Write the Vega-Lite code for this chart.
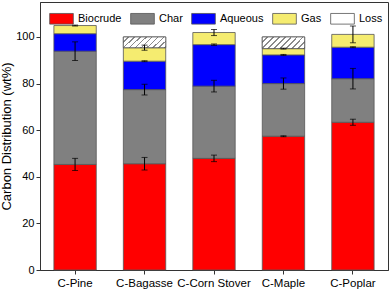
{
  "$schema": "https://vega.github.io/schema/vega-lite/v6.json",
  "width": 348,
  "height": 268,
  "autosize": "none",
  "padding": {"left": 40, "top": 2, "right": 2, "bottom": 21},
  "background": "white",
  "config": {
    "view": {"stroke": "#333", "strokeWidth": 1},
    "font": "Liberation Sans",
    "axis": {"grid": false, "domainColor": "#333", "tickColor": "#333", "labelColor": "black", "titleColor": "black", "labelFont": "Liberation Sans", "titleFont": "Liberation Sans"}
  },
  "data": {"values": [
    {"sample": "C-Pine", "comp": "Biocrude", "k": 1, "v": 45.3, "err": 2.6},
    {"sample": "C-Pine", "comp": "Char", "k": 2, "v": 48.6, "err": 4.0},
    {"sample": "C-Pine", "comp": "Aqueous", "k": 3, "v": 7.5, "err": 0},
    {"sample": "C-Pine", "comp": "Gas", "k": 4, "v": 3.5, "err": 0.2},
    {"sample": "C-Bagasse", "comp": "Biocrude", "k": 1, "v": 45.6, "err": 2.7},
    {"sample": "C-Bagasse", "comp": "Char", "k": 2, "v": 31.8, "err": 2.3},
    {"sample": "C-Bagasse", "comp": "Aqueous", "k": 3, "v": 12.2, "err": 0.2},
    {"sample": "C-Bagasse", "comp": "Gas", "k": 4, "v": 5.8, "err": 1.1},
    {"sample": "C-Bagasse", "comp": "Loss", "k": 5, "v": 4.6, "err": 0},
    {"sample": "C-Corn Stover", "comp": "Biocrude", "k": 1, "v": 47.9, "err": 1.4},
    {"sample": "C-Corn Stover", "comp": "Char", "k": 2, "v": 31.0, "err": 2.5},
    {"sample": "C-Corn Stover", "comp": "Aqueous", "k": 3, "v": 17.8, "err": 0.3},
    {"sample": "C-Corn Stover", "comp": "Gas", "k": 4, "v": 5.2, "err": 1.3},
    {"sample": "C-Maple", "comp": "Biocrude", "k": 1, "v": 57.4, "err": 0.2},
    {"sample": "C-Maple", "comp": "Char", "k": 2, "v": 22.6, "err": 2.4},
    {"sample": "C-Maple", "comp": "Aqueous", "k": 3, "v": 12.3, "err": 0.2},
    {"sample": "C-Maple", "comp": "Gas", "k": 4, "v": 2.7, "err": 0.2},
    {"sample": "C-Maple", "comp": "Loss", "k": 5, "v": 5.0, "err": 0},
    {"sample": "C-Poplar", "comp": "Biocrude", "k": 1, "v": 63.4, "err": 1.3},
    {"sample": "C-Poplar", "comp": "Char", "k": 2, "v": 18.7, "err": 4.4},
    {"sample": "C-Poplar", "comp": "Aqueous", "k": 3, "v": 13.5, "err": 0.2},
    {"sample": "C-Poplar", "comp": "Gas", "k": 4, "v": 5.5, "err": 3.6}
  ]},
  "layer": [
    {
      "mark": {"type": "bar", "stroke": "#555", "strokeWidth": 0.8},
      "encoding": {
        "x": {"field": "sample", "type": "nominal", "sort": null,
          "scale": {"paddingInner": 0.39, "paddingOuter": 0.2},
          "axis": {"title": null, "labelAngle": 0, "labelFontSize": 11.5, "tickSize": 4, "labelPadding": 3, "domainColor": "#333"}},
        "y": {"field": "v", "type": "quantitative", "stack": "zero", "title": "Carbon Distribution (wt%)",
          "scale": {"domain": [0, 115], "nice": false},
          "axis": {"title": "Carbon Distribution (wt%)", "values": [0, 20, 40, 60, 80, 100], "labelFontSize": 11, "titleFontSize": 13, "titleFontWeight": "normal", "tickSize": 4, "labelPadding": 2, "titlePadding": 2}},
        "order": {"field": "k", "type": "quantitative", "sort": "ascending"},
        "fill": {"field": "comp", "type": "nominal",
          "scale": {"domain": ["Biocrude", "Char", "Aqueous", "Gas", "Loss"],
            "range": ["#ff0000", "#808080", "#0000ff", "#f5ec70", "#ffffff"]},
          "legend": {"title": null, "orient": "none", "direction": "horizontal", "legendX": 9, "legendY": 4,
            "symbolType": "M-1,-0.45L1,-0.45L1,0.45L-1,0.45Z", "symbolSize": 560,
            "symbolStrokeColor": "#555", "symbolStrokeWidth": 0.8, "symbolOpacity": 1,
            "labelFontSize": 11, "labelFont": "Liberation Sans", "labelColor": "black", "labelOffset": 4, "columnPadding": 7,
            "encode": {"symbols": {"update": {
              "stroke": {"value": "#555"},
              "fill": [
              {"test": "datum.value === 'Loss'", "value": {"gradient": "linear", "x1": 0, "y1": 0, "x2": 1.1, "y2": 0.45, "stops": [
                {"offset": 0, "color": "#ffffff"}, {"offset": 0.12, "color": "#ffffff"}, {"offset": 0.12, "color": "#8a8a8a"}, {"offset": 0.1667, "color": "#8a8a8a"},
                {"offset": 0.1667, "color": "#ffffff"}, {"offset": 0.2867, "color": "#ffffff"}, {"offset": 0.2867, "color": "#8a8a8a"}, {"offset": 0.3333, "color": "#8a8a8a"},
                {"offset": 0.3333, "color": "#ffffff"}, {"offset": 0.4533, "color": "#ffffff"}, {"offset": 0.4533, "color": "#8a8a8a"}, {"offset": 0.5, "color": "#8a8a8a"},
                {"offset": 0.5, "color": "#ffffff"}, {"offset": 0.62, "color": "#ffffff"}, {"offset": 0.62, "color": "#8a8a8a"}, {"offset": 0.6667, "color": "#8a8a8a"},
                {"offset": 0.6667, "color": "#ffffff"}, {"offset": 0.7867, "color": "#ffffff"}, {"offset": 0.7867, "color": "#8a8a8a"}, {"offset": 0.8333, "color": "#8a8a8a"},
                {"offset": 0.8333, "color": "#ffffff"}, {"offset": 0.9533, "color": "#ffffff"}, {"offset": 0.9533, "color": "#8a8a8a"}, {"offset": 1, "color": "#8a8a8a"}
              ]}},
              {"scale": "fill", "field": "value"}
            ]}}}}}
      }
    },
    {
      "transform": [
        {"stack": "v", "groupby": ["sample"], "sort": [{"field": "k", "order": "ascending"}], "as": ["v0", "v1"]},
        {"filter": "datum.comp === 'Loss'"}
      ],
      "mark": {"type": "bar", "stroke": "#555", "strokeWidth": 0.8,
        "fill": {"gradient": "linear", "x1": 0, "y1": 0, "x2": 1.181, "y2": 0.309, "stops": [
          {"offset": 0, "color": "#ffffff"}, {"offset": 0.08, "color": "#ffffff"}, {"offset": 0.08, "color": "#8a8a8a"}, {"offset": 0.1111, "color": "#8a8a8a"},
          {"offset": 0.1111, "color": "#ffffff"}, {"offset": 0.1911, "color": "#ffffff"}, {"offset": 0.1911, "color": "#8a8a8a"}, {"offset": 0.2222, "color": "#8a8a8a"},
          {"offset": 0.2222, "color": "#ffffff"}, {"offset": 0.3022, "color": "#ffffff"}, {"offset": 0.3022, "color": "#8a8a8a"}, {"offset": 0.3333, "color": "#8a8a8a"},
          {"offset": 0.3333, "color": "#ffffff"}, {"offset": 0.4133, "color": "#ffffff"}, {"offset": 0.4133, "color": "#8a8a8a"}, {"offset": 0.4444, "color": "#8a8a8a"},
          {"offset": 0.4444, "color": "#ffffff"}, {"offset": 0.5244, "color": "#ffffff"}, {"offset": 0.5244, "color": "#8a8a8a"}, {"offset": 0.5556, "color": "#8a8a8a"},
          {"offset": 0.5556, "color": "#ffffff"}, {"offset": 0.6356, "color": "#ffffff"}, {"offset": 0.6356, "color": "#8a8a8a"}, {"offset": 0.6667, "color": "#8a8a8a"},
          {"offset": 0.6667, "color": "#ffffff"}, {"offset": 0.7467, "color": "#ffffff"}, {"offset": 0.7467, "color": "#8a8a8a"}, {"offset": 0.7778, "color": "#8a8a8a"},
          {"offset": 0.7778, "color": "#ffffff"}, {"offset": 0.8578, "color": "#ffffff"}, {"offset": 0.8578, "color": "#8a8a8a"}, {"offset": 0.8889, "color": "#8a8a8a"},
          {"offset": 0.8889, "color": "#ffffff"}, {"offset": 0.9689, "color": "#ffffff"}, {"offset": 0.9689, "color": "#8a8a8a"}, {"offset": 1, "color": "#8a8a8a"}
        ]}},
      "encoding": {
        "x": {"field": "sample", "type": "nominal", "sort": null},
        "y": {"field": "v0", "type": "quantitative", "title": "Carbon Distribution (wt%)"},
        "y2": {"field": "v1"}
      }
    },
    {
      "transform": [
        {"stack": "v", "groupby": ["sample"], "sort": [{"field": "k", "order": "ascending"}], "as": ["v0", "v1"]},
        {"filter": "datum.err > 0"}
      ],
      "mark": {"type": "errorbar", "ticks": {"size": 6, "color": "black"}, "rule": {"color": "black", "strokeWidth": 1}},
      "encoding": {
        "x": {"field": "sample", "type": "nominal", "sort": null},
        "y": {"field": "v1", "type": "quantitative", "title": "Carbon Distribution (wt%)"},
        "yError": {"field": "err"}
      }
    }
  ]
}
